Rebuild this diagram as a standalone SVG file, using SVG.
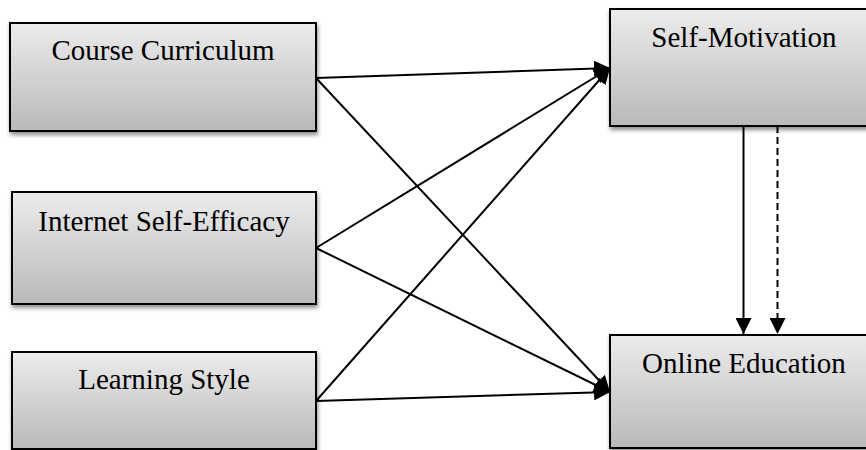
<svg xmlns="http://www.w3.org/2000/svg" width="866" height="450" viewBox="0 0 866 450">
<defs>
<linearGradient id="g" x1="0" y1="0" x2="0" y2="1">
<stop offset="0" stop-color="#ececec"/>
<stop offset="1" stop-color="#b9b9b9"/>
</linearGradient>
<filter id="sh" x="-10%" y="-10%" width="125%" height="130%">
<feDropShadow dx="1" dy="3" stdDeviation="2" flood-color="#000" flood-opacity="0.45"/>
</filter>
<marker id="ah" markerUnits="userSpaceOnUse" markerWidth="18" markerHeight="16" refX="16" refY="8" orient="auto">
<path d="M0,0 L16,8 L0,16 z" fill="#000"/>
</marker>
</defs>
<style>
.box{fill:url(#g);stroke:#000;stroke-width:2;filter:url(#sh)}
.lbl{font-family:"Liberation Serif","Times New Roman",serif;font-size:29px;fill:#000;text-anchor:middle}
.ln{stroke:#000;stroke-width:2;fill:none;marker-end:url(#ah)}
.dash{stroke-dasharray:7,4}
</style>
<rect width="866" height="450" fill="#fff"/>
<g id="course-curriculum">
<rect class="box" x="10" y="23" width="306" height="108"/>
<text class="lbl" x="163" y="60">Course Curriculum</text>
</g>
<g id="internet-self-efficacy">
<rect class="box" x="12" y="192" width="304" height="112"/>
<text class="lbl" x="164" y="231">Internet Self-Efficacy</text>
</g>
<g id="learning-style">
<rect class="box" x="12" y="352" width="304" height="97"/>
<text class="lbl" x="164" y="389">Learning Style</text>
</g>
<g id="self-motivation">
<rect class="box" x="610" y="9" width="268" height="117"/>
<text class="lbl" x="744" y="47">Self-Motivation</text>
</g>
<g id="online-education">
<rect class="box" x="610" y="335" width="268" height="113"/>
<text class="lbl" x="744" y="373">Online Education</text>
</g>
<g id="connectors">
<line class="ln" x1="316" y1="78" x2="610" y2="68"/>
<line class="ln" x1="316" y1="78" x2="610" y2="392"/>
<line class="ln" x1="316" y1="248" x2="610" y2="68"/>
<line class="ln" x1="316" y1="248" x2="610" y2="392"/>
<line class="ln" x1="316" y1="401" x2="610" y2="68"/>
<line class="ln" x1="316" y1="401" x2="610" y2="392"/>
<line class="ln" x1="743.5" y1="126" x2="743.5" y2="334"/>
<line class="ln dash" x1="777.5" y1="126" x2="777.5" y2="334"/>
</g>
</svg>
